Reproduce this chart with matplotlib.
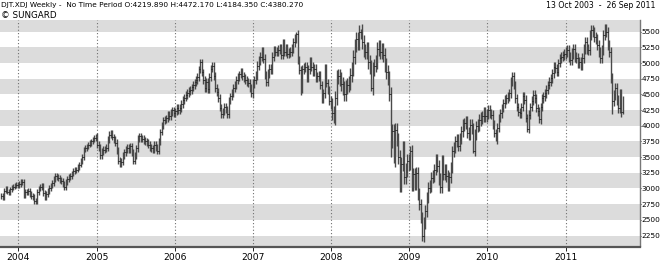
import numpy as np
import pandas as pd
import matplotlib
matplotlib.use("Agg")
from matplotlib import pyplot as plt
import matplotlib.dates as mdates

# weekly closes, week of 13 Oct 2003 .. week of 26 Sep 2011
closes_2003 = [2885, 2860, 2960, 3000, 2950, 2940, 2990, 3010, 3030, 3040, 3060, 3050]
closes_2004 = [3075, 3100, 3110, 2900, 2950, 2935, 2960, 2910, 2880, 2860, 2800, 2790,
               2940, 3000, 3020, 3040, 2930, 2860, 2910, 2960, 3010, 3050, 3090, 3150,
               3200, 3180, 3170, 3140, 3120, 3070, 3020, 3100, 3150, 3180, 3200, 3240,
               3280, 3290, 3300, 3340, 3380, 3440, 3500, 3620, 3650, 3670, 3700, 3720,
               3750, 3780, 3800, 3830]
closes_2005 = [3700, 3650, 3530, 3590, 3620, 3630, 3650, 3780, 3860, 3880, 3820, 3780,
               3730, 3600, 3440, 3390, 3430, 3530, 3580, 3620, 3650, 3620, 3670, 3580,
               3440, 3530, 3640, 3790, 3830, 3800, 3790, 3770, 3750, 3730, 3700, 3650,
               3640, 3620, 3700, 3650, 3600, 3750, 3900, 4010, 4090, 4100, 4120, 4180,
               4150, 4210, 4250, 4200]
closes_2006 = [4230, 4280, 4250, 4280, 4350, 4410, 4450, 4490, 4520, 4550, 4570, 4610,
               4650, 4690, 4730, 4780, 4900, 5010, 4850, 4730, 4600, 4700, 4580, 4780,
               4910, 4960, 4790, 4600, 4540, 4440, 4290, 4180, 4230, 4300, 4260, 4180,
               4400, 4470, 4520, 4600, 4650, 4730, 4780, 4820, 4860, 4790, 4760, 4730,
               4700, 4680, 4600, 4520]
closes_2007 = [4670, 4730, 4800, 4960, 5040, 5100, 5180, 5070, 4810, 4700, 4830, 4910,
               4890, 5100, 5200, 5180, 5190, 5210, 5230, 5130, 5310, 5180, 5230, 5150,
               5170, 5180, 5230, 5330, 5390, 5460, 5050, 4890, 4600, 4900, 4930, 4940,
               4760, 4900, 5020, 4940, 4860, 4910, 4760, 4790, 4810, 4650, 4440, 4520,
               4910, 4680, 4570, 4400]
closes_2008 = [4330, 4200, 4120, 4440, 4780, 4800, 4740, 4660, 4600, 4500, 4620, 4650,
               4680, 4810, 4910, 5100, 5280, 5390, 5310, 5490, 5520, 5340, 5200, 5180,
               5230, 5020, 4940, 4600, 4910, 4960, 5020, 5230, 5257, 5178, 5205, 5126,
               4967, 4862, 4757, 4500, 3750, 3910, 3460, 3940, 3780, 3500, 3050, 3390,
               3650, 3180, 3300, 3440, 3390]
closes_2009 = [3600, 3050, 3230, 3070, 3250, 2910, 2750, 2540, 2250, 2450, 2640, 2860,
               3010, 3040, 3170, 3200, 3300, 3460, 3360, 3150, 3020, 3440, 3230, 3300,
               3200, 3050, 3180, 3330, 3590, 3650, 3750, 3780, 3680, 3800, 3910, 4010,
               4040, 4070, 3890, 3860, 4010, 3960, 3600, 3860, 3990, 4010, 4090, 4124,
               4150, 4203, 4150, 4176]
closes_2010 = [4256, 4200, 4176, 4018, 3886, 3781, 3966, 4124, 4200, 4282, 4361, 4414,
               4440, 4467, 4519, 4704, 4790, 4651, 4440, 4300, 4220, 4200, 4300, 4467,
               4414, 4124, 3950, 4176, 4300, 4400, 4493, 4440, 4282, 4229, 4100, 4300,
               4440, 4467, 4519, 4572, 4651, 4704, 4757, 4836, 4941, 4915, 4862, 5000,
               5073, 5099, 5126, 5150]
closes_2011 = [5178, 5205, 5099, 5047, 5152, 5231, 5100, 5073, 4994, 5020, 4967, 5073,
               5231, 5337, 5231, 5205, 5450, 5521, 5495, 5416, 5389, 5284, 5178, 5073,
               5205, 5442, 5548, 5500, 5284, 5178, 4757, 4400, 4490, 4600, 4414, 4282,
               4500, 4219.89, 4380.27]

# typical extra range above/below the open-close span, per year
wick_by_year = {2003: 40, 2004: 45, 2005: 55, 2006: 60, 2007: 70,
                2008: 110, 2009: 90, 2010: 70, 2011: 80}
# spikes that stick out of the weekly bars
spike_lows = {200: 4493, 222: 4050, 247: 4560, 260: 3500, 262: 3400, 266: 2937,
              282: 2150, 315: 3560, 330: 3760, 351: 3900, 359: 4040, 408: 4180, 415: 4184.35}
spike_highs = {197: 5490, 240: 5540, 273: 3680, 404: 5620, 415: 4472.17}
first_open = 2870

closes = np.array(closes_2003 + closes_2004 + closes_2005 + closes_2006 + closes_2007 +
                  closes_2008 + closes_2009 + closes_2010 + closes_2011, dtype=float)
weeks = pd.date_range("2003-10-13", periods=len(closes), freq="7D")
opens = np.concatenate([[first_open], closes[:-1]])
w = np.array([wick_by_year[d.year] for d in weeks])
highs = np.maximum(opens, closes) + w
lows = np.minimum(opens, closes) - w
for k, v in spike_lows.items():
    lows[k] = v
for k, v in spike_highs.items():
    highs[k] = v

fig = plt.figure(figsize=(6.6, 2.63), dpi=100)
ax = fig.add_axes([0, 1 - 246.5 / 263, 640 / 660, (246.5 - 20) / 263])

for lo in range(2000, 5800, 500):
    ax.axhspan(lo, lo + 250, color="#dcdcdc", lw=0, zorder=0)

x = mdates.date2num(weeks)
ax.vlines(x, lows, highs, color="#4a4a4a", lw=1.0, zorder=2)
ax.hlines(opens, x - 2.5, x, color="#1a1a1a", lw=0.7, zorder=3)
ax.hlines(closes, x, x + 2.5, color="#1a1a1a", lw=0.7, zorder=3)

ax.set_xlim(mdates.date2num(pd.Timestamp("2003-10-07")), mdates.date2num(pd.Timestamp("2011-12-15")))
ax.set_ylim(2075, 5686)

ax.xaxis.set_major_locator(mdates.YearLocator())
ax.xaxis.set_major_formatter(mdates.DateFormatter("%Y"))
ax.grid(axis="x", color="#707070", lw=0.8, linestyle=(0, (1, 2)), zorder=1)
ax.set_yticks(range(2250, 5501, 250))
ax.yaxis.tick_right()

fnt = ["Liberation Sans Narrow", "DejaVu Sans"]
ax.tick_params(axis="y", length=0.8, width=0.6, pad=0.2, labelsize=5.3, colors="#000000")
ax.tick_params(axis="x", length=3, width=0.6, pad=2, labelsize=6.6)
for lab in ax.get_xticklabels() + ax.get_yticklabels():
    lab.set_family(fnt)

ax.spines["top"].set_visible(False)
ax.spines["left"].set_visible(False)
ax.spines["bottom"].set_color("#555555")
ax.spines["bottom"].set_linewidth(1.6)
ax.spines["right"].set_color("#777777")
ax.spines["right"].set_linewidth(1.0)

fig.text(1 / 660, 1 - 5.5 / 263,
         "DJT.XDJ Weekly -  No Time Period O:4219.890 H:4472.170 L:4184.350 C:4380.270",
         ha="left", va="center", fontsize=5.3, family=fnt)
fig.text(1 / 660, 1 - 15.5 / 263, "\u00a9 SUNGARD", ha="left", va="center", fontsize=6.3, family=fnt)
fig.text(655 / 660, 1 - 5.5 / 263, "13 Oct 2003  -  26 Sep 2011",
         ha="right", va="center", fontsize=5.6, family=fnt)

fig.savefig("out.png", dpi=100)
